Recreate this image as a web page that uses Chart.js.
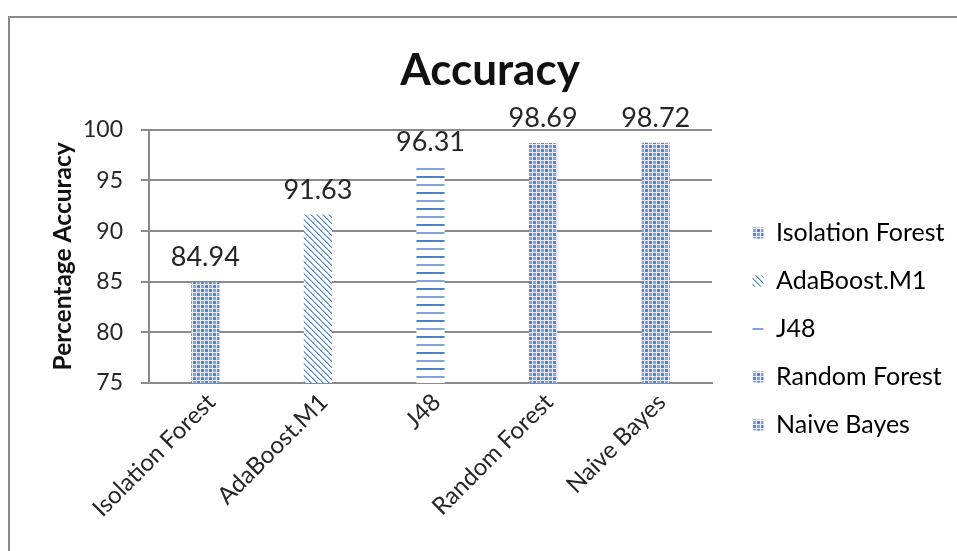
<!DOCTYPE html>
<html>
<head>
<meta charset="utf-8">
<script src="https://cdn.jsdelivr.net/npm/chart.js@4.4.1/dist/chart.umd.min.js"></script>
<style>
  html, body { margin: 0; padding: 0; background: #ffffff; }
  #wrap { width: 957px; height: 551px; }
</style>
</head>
<body>
<div id="wrap"><canvas id="chart" width="957" height="551"></canvas></div>
<script>
// Classifier accuracy (%)
const categories = ['Isolation Forest', 'AdaBoost.M1', 'J48', 'Random Forest', 'Naive Bayes'];
const accuracy = [84.94, 91.63, 96.31, 98.69, 98.72];
const yMin = 75;
const yMax = 100;
const yStep = 5;

// Fill style of each classifier's bar
const fillKinds = ['grid', 'diagonal', 'horizontal', 'grid', 'grid'];

const FONT = 'Lato, "Liberation Sans", sans-serif';

function makePattern(kind) {
  const c = document.createElement('canvas');
  const g = c.getContext('2d');
  if (kind === 'grid') {
    c.width = 8; c.height = 8;
    g.fillStyle = '#e6edf9';
    g.fillRect(0, 0, 8, 8);
    g.fillStyle = '#5283d2';
    g.fillRect(1, 1, 3, 3);
    g.fillRect(5, 5, 3, 3);
    g.fillStyle = '#7ea2de';
    g.fillRect(5, 1, 3, 3);
    g.fillRect(1, 5, 3, 3);
  } else if (kind === 'diagonal') {
    c.width = 6; c.height = 6;
    g.fillStyle = '#ffffff';
    g.fillRect(0, 0, 6, 6);
    for (let i = 0; i < 6; i++) {
      g.fillStyle = '#5585d3';
      g.fillRect(i, i, 1, 1);
      g.fillStyle = '#a7c0ea';
      g.fillRect((i + 1) % 6, i, 1, 1);
    }
  } else {
    c.width = 8; c.height = 16;
    g.fillStyle = '#ffffff';
    g.fillRect(0, 0, 8, 16);
    g.fillStyle = '#4f7fcf';
    g.fillRect(0, 0, 8, 2);
    g.fillStyle = '#7fa3de';
    g.fillRect(0, 8, 8, 2);
  }
  return g.createPattern(c, 'repeat');
}

const canvas = document.getElementById('chart');
const ctx0 = canvas.getContext('2d');
const fills = fillKinds.map(makePattern);

// Legend geometry: the legend column plus its gutter fills the space right of the plot
const legendFontSize = 25;
const legendPad = 23;
const legendBox = 11;
const plotRight = 712;
ctx0.font = legendFontSize + 'px ' + FONT;
const widestLabel = Math.max(...categories.map(s => ctx0.measureText(s).width));
const legendWidth = legendPad + legendBox + legendFontSize / 2 + widestLabel + 10;
const rightGutter = Math.max(0, canvas.width - plotRight - legendWidth);

Chart.defaults.font.family = FONT;
Chart.defaults.color = '#262626';

// White page with the grey chart frame
const framePlugin = {
  id: 'frame',
  beforeDraw(chart) {
    const c = chart.ctx;
    c.save();
    c.fillStyle = '#ffffff';
    c.fillRect(0, 0, chart.width, chart.height);
    c.strokeStyle = '#8a8a8a';
    c.lineWidth = 2;
    c.strokeRect(9, 17, chart.width + 40, chart.height + 40);
    c.restore();
  }
};

// Title centred on the frame, legend placed beside the plot
const placementPlugin = {
  id: 'placement',
  afterLayout(chart) {
    const t = chart.titleBlock;
    if (t) { t.left = 9; t.right = 971; t.width = t.right - t.left; }
    const lg = chart.legend;
    if (lg) {
      lg.left = 729.5; lg.right = 957; lg.width = lg.right - lg.left;
      lg.top = 180; lg.bottom = 478; lg.height = lg.bottom - lg.top;
    }
  }
};

// Value labels above each bar
const valueLabels = {
  id: 'valueLabels',
  afterDatasetsDraw(chart) {
    const c = chart.ctx;
    const meta = chart.getDatasetMeta(0);
    const data = chart.data.datasets[0].data;
    c.save();
    c.font = '27px ' + FONT;
    c.fillStyle = '#262626';
    c.textAlign = 'center';
    c.textBaseline = 'alphabetic';
    meta.data.forEach((bar, i) => {
      c.fillText(data[i].toFixed(2), bar.x, bar.y - 16);
    });
    c.restore();
  }
};

new Chart(ctx0, {
  type: 'bar',
  data: {
    labels: categories,
    datasets: [{
      label: 'Accuracy',
      data: accuracy,
      backgroundColor: fills,
      borderWidth: 0,
      categoryPercentage: 1.0,
      barPercentage: 0.25
    }]
  },
  options: {
    responsive: false,
    animation: false,
    devicePixelRatio: 1,
    layout: { padding: { left: 9, top: 17, right: rightGutter, bottom: 0 } },
    plugins: {
      title: {
        display: true,
        text: 'Accuracy',
        color: '#111111',
        font: { size: 44, weight: 'bold' },
        padding: { top: 27, bottom: 33 }
      },
      legend: {
        display: true,
        position: 'right',
        onClick: null,
        labels: {
          boxWidth: legendBox,
          boxHeight: legendBox,
          padding: legendPad,
          color: '#262626',
          font: { size: legendFontSize },
          generateLabels() {
            return categories.map((name, i) => ({
              text: name,
              fillStyle: fills[i],
              strokeStyle: 'rgba(0,0,0,0)',
              lineWidth: 0,
              hidden: false,
              index: i,
              datasetIndex: 0
            }));
          }
        }
      },
      tooltip: { enabled: false }
    },
    scales: {
      x: {
        afterFit(scale) { scale.height = 168; },
        grid: { display: false, drawTicks: false },
        border: { display: true, color: '#8a8a8a', width: 2 },
        ticks: {
          autoSkip: false,
          minRotation: 45,
          maxRotation: 45,
          padding: 5,
          labelOffset: 6,
          color: '#262626',
          font: { size: 24 }
        }
      },
      y: {
        min: yMin,
        max: yMax,
        afterFit(scale) { scale.width = 140; },
        grid: { color: '#8a8a8a', lineWidth: 2, tickLength: 8, drawTicks: true },
        border: { display: true, color: '#8a8a8a', width: 2 },
        ticks: {
          stepSize: yStep,
          padding: 18,
          color: '#262626',
          font: { size: 23 }
        },
        title: {
          display: true,
          text: 'Percentage Accuracy',
          color: '#111111',
          font: { size: 24.5, weight: 'bold' },
          padding: { top: 39, bottom: 0 }
        }
      }
    }
  },
  plugins: [framePlugin, placementPlugin, valueLabels]
});
</script>
</body>
</html>
